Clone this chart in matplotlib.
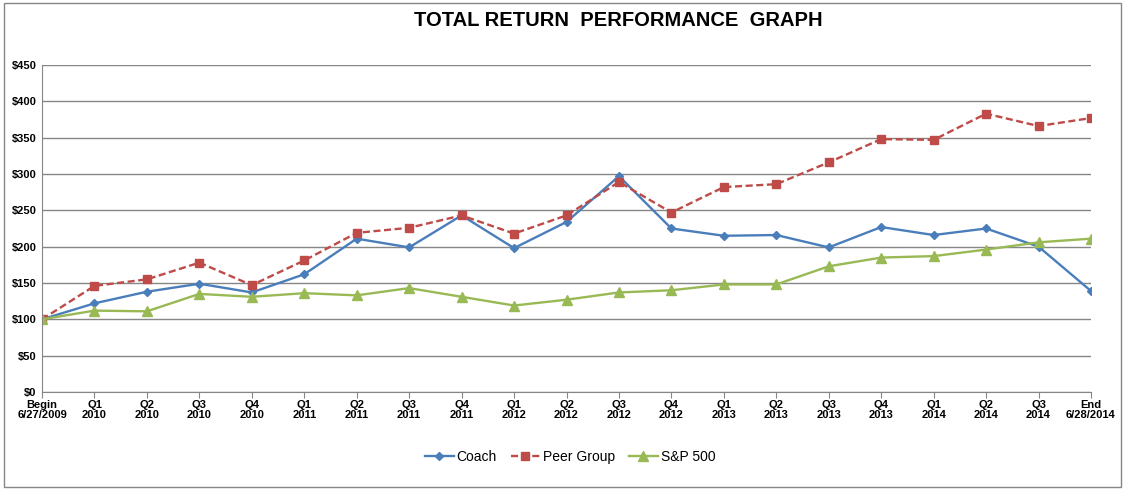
import matplotlib
matplotlib.use("Agg")
import matplotlib.pyplot as plt
from matplotlib.patches import Rectangle

plt.rcParams['font.family'] = ['Liberation Sans', 'DejaVu Sans']

periods = ["Begin\n6/27/2009", "Q1\n2010", "Q2\n2010", "Q3\n2010", "Q4\n2010",
           "Q1\n2011", "Q2\n2011", "Q3\n2011", "Q4\n2011",
           "Q1\n2012", "Q2\n2012", "Q3\n2012", "Q4\n2012",
           "Q1\n2013", "Q2\n2013", "Q3\n2013", "Q4\n2013",
           "Q1\n2014", "Q2\n2014", "Q3\n2014", "End\n6/28/2014"]

coach = [100, 122, 138, 149, 137, 162, 211, 199, 243, 198, 234, 297, 225,
         215, 216, 199, 227, 216, 225, 200, 139]
peer_group = [100, 146, 155, 178, 147, 181, 219, 226, 243, 218, 243, 289, 247,
              282, 286, 316, 348, 347, 383, 366, 377]
sp500 = [100, 112, 111, 135, 131, 136, 133, 143, 131, 119, 127, 137, 140,
         148, 148, 173, 185, 187, 196, 206, 211]

y_ticks = list(range(0, 451, 50))

fig = plt.figure(figsize=(11.29, 4.96), dpi=100)
ax = fig.add_axes([42 / 1129, 104 / 496, 1049 / 1129, 327 / 496])

x = list(range(len(periods)))
ax.plot(x, coach, color="#4A7EBB", lw=1.7, marker="D", ms=4.5, label="Coach")
ax.plot(x, peer_group, color="#BE4B48", lw=1.7, ls=(0, (3, 1.5)), marker="s", ms=6,
        label="Peer Group")
ax.plot(x, sp500, color="#98B954", lw=1.7, marker="^", ms=6.5, label="S&P 500")

ax.set_xlim(0, len(periods) - 1)
ax.set_ylim(0, 450)
ax.set_yticks(y_ticks)
ax.set_yticklabels([f"${v}" for v in y_ticks], fontsize=8, fontweight="bold")
ax.set_xticks(x)
ax.set_xticklabels(periods, fontsize=8, fontweight="bold", linespacing=1.0)
ax.tick_params(axis="y", length=0, pad=4)
ax.tick_params(axis="x", length=4, direction="out", color="#868686", pad=2)
ax.grid(axis="y", color="#868686", lw=1)
ax.set_axisbelow(True)
for side in ["top", "right"]:
    ax.spines[side].set_visible(False)
for side in ["left", "bottom"]:
    ax.spines[side].set_color("#868686")

fig.text(618 / 1129, 1 - 20 / 496, "TOTAL RETURN  PERFORMANCE  GRAPH",
         ha="center", va="center", fontsize=14.5, fontweight="bold")

leg = fig.legend(loc="center", bbox_to_anchor=(570 / 1129, 1 - 457 / 496), ncol=3,
                 frameon=False, fontsize=10, handlelength=2.1, columnspacing=1.0,
                 handletextpad=0.2)

fig.patches.append(Rectangle((4 / 1129, 9 / 496), 1117 / 1129, 484 / 496,
                             transform=fig.transFigure, fill=False,
                             edgecolor="#868686", lw=1))

fig.savefig("out.png", dpi=100)
